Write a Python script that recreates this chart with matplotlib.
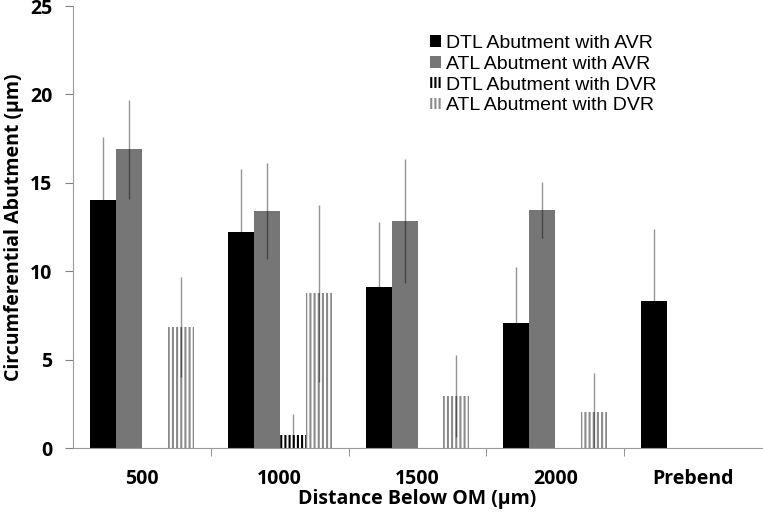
import numpy as np
import matplotlib.pyplot as plt

# groups along the x axis
groups = ["500", "1000", "1500", "2000", "Prebend"]

# bar heights (um)
dtl_avr = [14.0, 12.2, 9.1, 7.05, 8.3]
atl_avr = [16.9, 13.4, 12.85, 13.45, 0.0]
dtl_dvr = [0.0, 0.75, 0.0, 0.0, 0.0]
atl_dvr = [6.85, 8.75, 2.95, 2.05, 0.0]

# error bar half-lengths
dtl_avr_err = [3.6, 3.6, 3.7, 3.2, 4.1]
atl_avr_err = [2.8, 2.7, 3.5, 1.6, 0.0]
dtl_dvr_err = [0.0, 1.15, 0.0, 0.0, 0.0]
atl_dvr_err = [2.85, 5.0, 2.3, 2.2, 0.0]

labels = ["DTL Abutment with AVR", "ATL Abutment with AVR",
          "DTL Abutment with DVR", "ATL Abutment with DVR"]

plt.rcParams["hatch.linewidth"] = 1.5

fig = plt.figure(figsize=(7.63, 5.18), dpi=100)
ax = fig.add_axes([73 / 763, 70 / 518, 689 / 763, 442 / 518])

x = np.arange(len(groups))
w = 0.188
offs = [-1.5 * w, -0.5 * w, 0.5 * w, 1.5 * w]

series = [
    (dtl_avr, dtl_avr_err, dict(color="black")),
    (atl_avr, atl_avr_err, dict(color="#767676")),
    (dtl_dvr, dtl_dvr_err, dict(facecolor="white", edgecolor="black", hatch="||||", linewidth=0)),
    (atl_dvr, atl_dvr_err, dict(facecolor="white", edgecolor="#8a8a8a", hatch="||||", linewidth=0)),
]

for (vals, errs, style), off, lab in zip(series, offs, labels):
    vals = np.array(vals)
    errs = np.array(errs)
    ax.bar(x + off, vals, w, label=lab, **style)
    m = vals > 0
    # translucent black: light on white, darker on grey, hidden on black
    ax.errorbar(x[m] + off, vals[m], yerr=errs[m], fmt="none",
                ecolor=(0, 0, 0, 0.42), elinewidth=1.0, capsize=0, zorder=3)

ax.set_xlim(-0.5, len(groups) - 0.5)
ax.set_ylim(0, 25)
ax.set_yticks([0, 5, 10, 15, 20, 25])

ax.set_xticks(x)
ax.set_xticklabels(groups)
ax.set_xticks(np.arange(0.5, len(groups) - 1, 1), minor=True)
ax.tick_params(axis="x", which="major", length=0, pad=15)
ax.tick_params(axis="x", which="minor", length=6, color="#808080", direction="out")
ax.tick_params(axis="y", length=6, color="#808080", direction="out", pad=9)

for side in ["top", "right"]:
    ax.spines[side].set_visible(False)
for side in ["left", "bottom"]:
    ax.spines[side].set_color("#9a9a9a")

for t in ax.get_xticklabels() + ax.get_yticklabels():
    t.set_fontfamily("Open Sans")
    t.set_fontweight("bold")
    t.set_fontsize(14)

ax.set_xlabel("Distance Below OM (\u03bcm)", fontfamily="Open Sans",
              fontweight="bold", fontsize=14, labelpad=0)
ax.set_ylabel("Circumferential Abutment (\u03bcm)", fontfamily="Open Sans",
              fontweight="bold", fontsize=14, labelpad=4)

leg = ax.legend(loc="upper left", bbox_to_anchor=(0.518, 0.935), frameon=False,
                prop={"family": "Liberation Sans", "size": 14},
                handlelength=0.55, handleheight=0.55, handletextpad=0.3,
                labelspacing=0.2, borderaxespad=0, borderpad=0)

fig.savefig("out.png", dpi=100)
